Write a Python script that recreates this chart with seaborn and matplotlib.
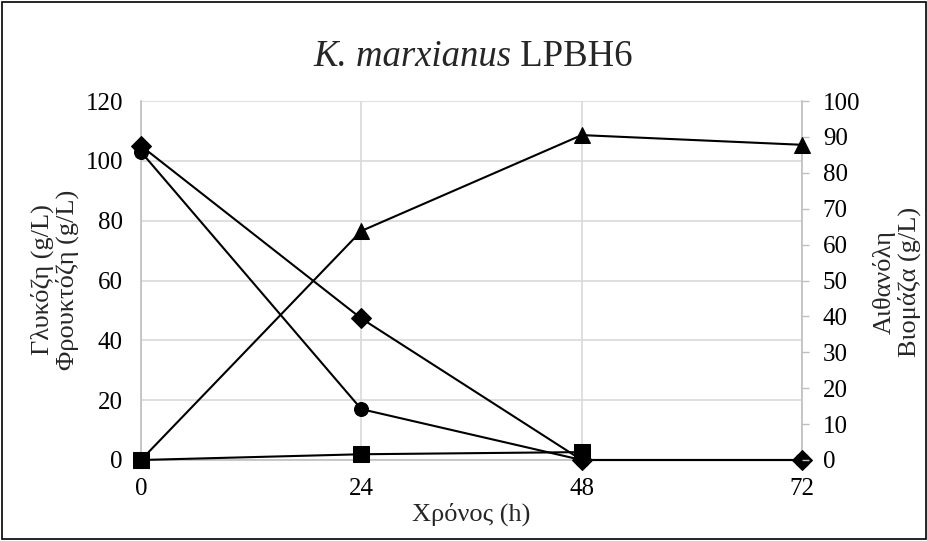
import numpy as np
import pandas as pd
import seaborn as sns
import matplotlib
matplotlib.use("Agg")
import matplotlib.pyplot as plt
from matplotlib.patches import Rectangle

sns.set_theme(style="white")
plt.rcParams['font.family'] = ['Liberation Serif', 'DejaVu Serif']

time_h = [0, 24, 48, 72]
glucose = [103.0, 17.0, 0.0, 0.0]
fructose = [105.0, 47.3, 0.0, 0.0]
ethanol = [0.0, 63.8, 90.5, 87.8]
biomass = [0.0, 1.6, 2.2, np.nan]

left_ticks = [0, 20, 40, 60, 80, 100, 120]
right_ticks = [0, 10, 20, 30, 40, 50, 60, 70, 80, 90, 100]

df = pd.DataFrame({"t": time_h, "glc": glucose, "fru": fructose,
                   "eth": ethanol, "bio": biomass})

W, H = 928, 541
fig = plt.figure(figsize=(W/100, H/100), dpi=100)
ax = fig.add_axes([141/W, 1 - 460/H, (802-141)/W, (460-101)/H])
ax2 = ax.twinx()

grid_c = "#d9d9d9"
line_kw = dict(color="black", linewidth=1.5, clip_on=False,
               markeredgecolor="black", markerfacecolor="black")

sns.lineplot(data=df, x="t", y="glc", ax=ax, marker="o", markersize=10,
             zorder=5, **line_kw)
sns.lineplot(data=df, x="t", y="fru", ax=ax, marker="D", markersize=10,
             zorder=6, **line_kw)
sns.lineplot(data=df, x="t", y="eth", ax=ax2, marker="^", markersize=12,
             zorder=5, **line_kw)
sns.lineplot(data=df.dropna(), x="t", y="bio", ax=ax2, marker="s",
             markersize=12, zorder=5, **line_kw)

ax.set_xlim(0, 72)
ax.set_ylim(0, 120)
ax2.set_ylim(0, 100)
ax.set_xticks(time_h)
ax.set_yticks(left_ticks)
ax2.set_yticks(right_ticks)
ax.tick_params(axis="y", labelsize=18, length=0, pad=13, colors="black")
ax.tick_params(axis="x", labelsize=18, length=0, pad=13, colors="black")
ax2.tick_params(axis="y", labelsize=18, length=5, width=1, color="#bfbfbf",
                labelcolor="black", direction="out", pad=10)
ax.grid(True, color=grid_c, linewidth=1.2)
ax.set_axisbelow(True)
ax2.grid(False)

ax.spines["top"].set_visible(False)
for sp in ["left", "bottom", "right"]:
    ax.spines[sp].set_color("#bfbfbf")
    ax.spines[sp].set_linewidth(1.2)
for sp in ["top", "left", "bottom", "right"]:
    ax2.spines[sp].set_visible(False)

ax.set_xlabel("Χρόνος (h)", fontsize=19, va="center")
ax.xaxis.set_label_coords(0.5, (460 - 514) / 359)
ax.set_ylabel("Γλυκόζη (g/L)\nΦρουκτόζη (g/L)", fontsize=19, linespacing=1.1,
              va="center", ha="center")
ax.yaxis.set_label_coords((55 - 141) / 661, (460 - 280) / 359)
ax2.set_ylabel("Αιθανόλη\nΒιομάζα (g/L)", fontsize=19, linespacing=1.1,
               va="center", ha="center")
ax2.yaxis.set_label_coords((897 - 141) / 661, (460 - 282) / 359)

# Title: italic species name + roman strain name, centered as a whole
ty = 1 - 66 / H
t1 = fig.text(0, ty, "K. marxianus", fontsize=26.5, fontstyle="italic",
              va="baseline", ha="left")
t2 = fig.text(0, ty, " LPBH6", fontsize=26.5, va="baseline", ha="left")
fig.canvas.draw()
r = fig.canvas.get_renderer()
w1 = t1.get_window_extent(r).width
w2 = t2.get_window_extent(r).width
x0 = 473 - (w1 + w2) / 2
t1.set_x(x0 / W)
t2.set_x((x0 + w1) / W)

fig.patches.append(Rectangle((0.002, 0.004), 0.996, 0.992, transform=fig.transFigure,
                             fill=False, edgecolor="black", linewidth=1.2))

fig.savefig("out.png", dpi=100)
